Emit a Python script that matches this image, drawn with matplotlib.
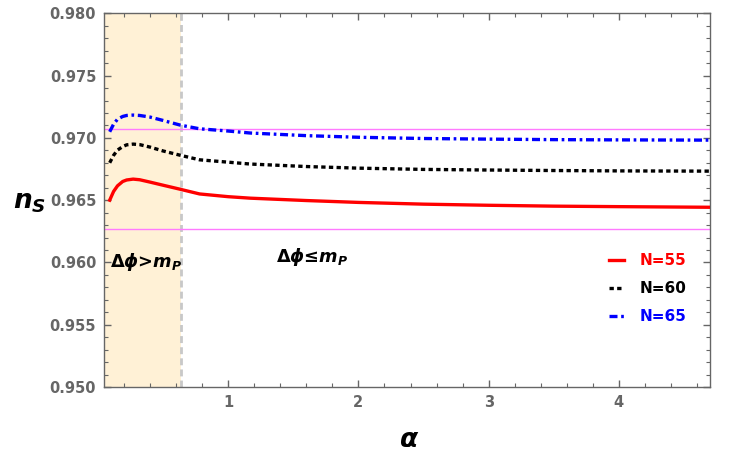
import matplotlib
matplotlib.use("Agg")
from matplotlib import pyplot as plt
from matplotlib.ticker import MultipleLocator

# values
alpha = [0.09, 0.12, 0.15, 0.19, 0.22, 0.27, 0.32, 0.40, 0.50, 0.63,
         0.78, 1.0, 1.17, 1.6, 2.0, 2.5, 3.0, 3.5, 4.0, 4.7]
ns_55 = [0.9650, 0.9657, 0.96615, 0.96650, 0.96662, 0.96669, 0.96664, 0.96645, 0.96620, 0.96588,
         0.96550, 0.96528, 0.96516, 0.96497, 0.96482, 0.96468, 0.96459, 0.96452, 0.96448, 0.96443]
ns_60 = [0.9680, 0.96860, 0.96902, 0.96930, 0.96944, 0.96950, 0.96946, 0.96926, 0.96895, 0.96861,
         0.96824, 0.96805, 0.96790, 0.96770, 0.96757, 0.96747, 0.96742, 0.96738, 0.96735, 0.96733]
ns_65 = [0.97049, 0.97110, 0.97150, 0.97172, 0.97180, 0.97183, 0.97180, 0.97167, 0.97140, 0.97103,
         0.97073, 0.97055, 0.97039, 0.97018, 0.97005, 0.96995, 0.96990, 0.96986, 0.96984, 0.96982]
labels = ["N=55", "N=60", "N=65"]
planck_bounds = [0.9627, 0.9707]
alpha_split = 0.64

plt.rcParams['mathtext.fontset'] = 'custom'
plt.rcParams['mathtext.rm'] = 'DejaVu Sans:bold'
plt.rcParams['mathtext.it'] = 'DejaVu Sans:italic:bold'
plt.rcParams['mathtext.bf'] = 'DejaVu Sans:bold'

fig = plt.figure(figsize=(7.5, 4.69), dpi=100)
ax = fig.add_axes([0.1393, 0.1748, 0.8074, 0.7968])

ax.axvspan(0.0, alpha_split, color='#FFF1D6', zorder=0, lw=0)
ax.axvline(alpha_split, color='#C8C8C8', lw=2, ls=(0, (2.5, 1.5)), zorder=1)
for b in planck_bounds:
    ax.axhline(b, color='#FF7AFF', lw=1.0, zorder=1)

ax.plot(alpha, ns_55, color='#FF0000', lw=2.4, label=labels[0], zorder=3)
ax.plot(alpha, ns_60, color='black', lw=2.4, ls=(0, (1.3, 1.0)), label=labels[1], zorder=3)
ax.plot(alpha, ns_65, color='#0000FF', lw=2.4, ls=(0, (2.4, 1.1, 0.8, 1.1)), label=labels[2], zorder=3)

ax.set_xlim(0.05, 4.70)
ax.set_ylim(0.950, 0.980)
ax.xaxis.set_major_locator(MultipleLocator(1))
ax.xaxis.set_minor_locator(MultipleLocator(0.2))
ax.yaxis.set_major_locator(MultipleLocator(0.005))
ax.yaxis.set_minor_locator(MultipleLocator(0.001))
ax.yaxis.set_major_formatter(plt.FormatStrFormatter('%.3f'))

for s in ax.spines.values():
    s.set_color('#666666')
    s.set_linewidth(1.0)
ax.tick_params(which='both', direction='in', top=True, right=True, color='#666666')
ax.tick_params(which='major', length=5, width=1, labelsize=10.5, labelcolor='#666666', pad=6)
ax.tick_params(which='minor', length=3, width=0.8)
for lab in ax.get_xticklabels() + ax.get_yticklabels():
    lab.set_fontfamily('DejaVu Sans')
    lab.set_fontweight('bold')

fig.text(0.04, 0.57, r'$n_S$', fontsize=19, ha='center', va='center')
fig.text(0.545, 0.062, r'$\alpha$', fontsize=19, ha='center', va='center')

ax.text(0.09, 0.9600, r'$\Delta\phi$>$m_P$', fontsize=12.8, fontweight='bold',
        va='center', ha='left')
ax.text(1.37, 0.9604, r'$\Delta\phi$' + '\u2264' + r'$m_P$', fontsize=12.8,
        fontweight='bold', va='center', ha='left')

leg = ax.legend(loc='upper left', bbox_to_anchor=(0.81, 0.395), frameon=False,
                handlelength=1.0, handletextpad=1.0, labelspacing=0.85,
                prop={'family': 'DejaVu Sans', 'weight': 'bold', 'size': 11},
                labelcolor='linecolor')

fig.savefig('out.png', dpi=100)
